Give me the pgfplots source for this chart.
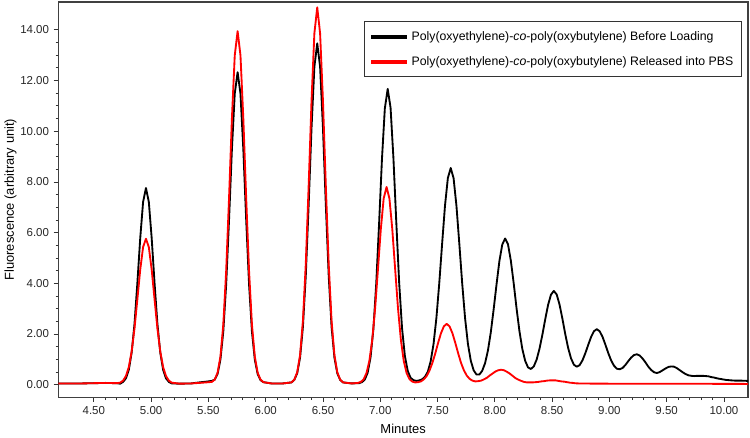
\documentclass[border=0pt]{standalone}
\usepackage{fontspec}
\setmainfont{Liberation Sans}
\usepackage{pgfplots}
\pgfplotsset{compat=1.18}

\pgfplotstableread{
x y
4.19 0.05
4.30 0.05
4.40 0.05
4.50 0.06
4.60 0.07
4.70 0.06
4.730 0.04
4.755 0.11
4.780 0.25
4.805 0.58
4.830 1.26
4.855 2.40
4.880 4.01
4.905 5.78
4.930 7.21
4.955 7.76
4.980 7.21
5.005 5.78
5.030 4.01
5.055 2.40
5.080 1.26
5.105 0.58
5.130 0.25
5.155 0.11
5.180 0.05
5.25 0.04
5.35 0.05
5.42 0.09
5.48 0.12
5.530 0.15
5.555 0.20
5.580 0.42
5.605 0.99
5.630 2.10
5.655 3.95
5.680 6.49
5.705 9.27
5.730 11.48
5.755 12.33
5.780 11.48
5.805 9.27
5.830 6.49
5.855 3.95
5.880 2.10
5.905 0.99
5.930 0.42
5.955 0.18
5.980 0.10
6.05 0.05
6.15 0.05
6.225 0.09
6.250 0.19
6.275 0.45
6.300 1.07
6.325 2.28
6.350 4.31
6.375 7.09
6.400 10.12
6.425 12.54
6.450 13.47
6.475 12.54
6.500 10.12
6.525 7.09
6.550 4.31
6.575 2.28
6.600 1.07
6.625 0.45
6.650 0.19
6.675 0.09
6.75 0.05
6.815 0.06
6.840 0.10
6.865 0.20
6.890 0.47
6.915 1.07
6.940 2.19
6.965 3.99
6.990 6.37
7.015 8.91
7.040 10.90
7.065 11.67
7.090 10.93
7.115 8.94
7.140 6.41
7.165 4.03
7.190 2.24
7.215 1.13
7.240 0.54
7.265 0.27
7.290 0.18
7.315 0.15
7.340 0.17
7.365 0.21
7.390 0.31
7.415 0.51
7.440 0.92
7.465 1.60
7.490 2.63
7.515 4.00
7.540 5.56
7.565 7.06
7.590 8.15
7.615 8.55
7.640 8.15
7.665 7.06
7.690 5.57
7.715 4.01
7.740 2.64
7.765 1.62
7.790 0.95
7.815 0.57
7.840 0.40
7.865 0.40
7.890 0.55
7.915 0.85
7.940 1.35
7.965 2.07
7.990 2.98
8.015 3.96
8.040 4.88
8.065 5.53
8.090 5.77
8.115 5.54
8.140 4.89
8.165 3.99
8.190 3.00
8.215 2.11
8.240 1.41
8.265 0.94
8.290 0.68
8.315 0.62
8.340 0.72
8.365 0.99
8.390 1.42
8.415 1.97
8.440 2.58
8.465 3.15
8.490 3.55
8.515 3.70
8.540 3.56
8.565 3.16
8.590 2.60
8.615 1.99
8.640 1.45
8.665 1.04
8.690 0.79
8.715 0.71
8.740 0.77
8.765 0.96
8.790 1.24
8.815 1.57
8.840 1.88
8.865 2.11
8.890 2.19
8.915 2.11
8.940 1.89
8.965 1.58
8.990 1.25
9.015 0.96
9.040 0.75
9.065 0.63
9.090 0.61
9.115 0.66
9.140 0.78
9.165 0.93
9.190 1.07
9.215 1.17
9.240 1.20
9.265 1.15
9.290 1.03
9.315 0.88
9.340 0.71
9.365 0.58
9.390 0.49
9.415 0.46
9.440 0.50
9.465 0.57
9.490 0.64
9.515 0.70
9.540 0.72
9.565 0.71
9.590 0.65
9.615 0.57
9.640 0.49
9.665 0.42
9.690 0.37
9.715 0.35
9.740 0.34
9.765 0.35
9.790 0.35
9.815 0.35
9.840 0.34
9.865 0.33
9.890 0.30
9.915 0.28
9.940 0.25
9.965 0.23
9.990 0.21
10.015 0.19
10.040 0.18
10.065 0.17
10.10 0.16
10.15 0.16
10.21 0.15
}\before

\pgfplotstableread{
x y
4.19 0.05
4.30 0.05
4.40 0.05
4.50 0.06
4.60 0.07
4.70 0.06
4.730 0.08
4.755 0.16
4.780 0.34
4.805 0.69
4.830 1.31
4.855 2.22
4.880 3.37
4.905 4.54
4.930 5.43
4.955 5.76
4.980 5.43
5.005 4.54
5.030 3.37
5.055 2.22
5.080 1.31
5.105 0.69
5.130 0.34
5.155 0.16
5.180 0.08
5.25 0.04
5.35 0.05
5.42 0.07
5.48 0.09
5.530 0.11
5.555 0.20
5.580 0.47
5.605 1.11
5.630 2.37
5.655 4.47
5.680 7.34
5.705 10.48
5.730 12.99
5.755 13.95
5.780 12.99
5.805 10.48
5.830 7.34
5.855 4.47
5.880 2.37
5.905 1.11
5.930 0.47
5.955 0.20
5.980 0.10
6.05 0.05
6.15 0.05
6.225 0.09
6.250 0.20
6.275 0.49
6.300 1.17
6.325 2.52
6.350 4.76
6.375 7.83
6.400 11.19
6.425 13.86
6.450 14.89
6.475 13.86
6.500 11.19
6.525 7.83
6.550 4.76
6.575 2.52
6.600 1.17
6.625 0.49
6.650 0.20
6.675 0.09
6.75 0.05
6.805 0.07
6.830 0.11
6.855 0.21
6.880 0.46
6.905 0.94
6.930 1.77
6.955 3.00
6.980 4.56
7.005 6.14
7.030 7.35
7.055 7.80
7.080 7.35
7.105 6.14
7.130 4.56
7.155 3.01
7.180 1.77
7.205 0.94
7.230 0.46
7.255 0.22
7.280 0.12
7.305 0.09
7.330 0.10
7.355 0.13
7.380 0.21
7.405 0.34
7.430 0.56
7.455 0.86
7.480 1.23
7.505 1.65
7.530 2.03
7.555 2.30
7.580 2.40
7.605 2.30
7.630 2.03
7.655 1.65
7.680 1.24
7.705 0.86
7.730 0.57
7.755 0.36
7.780 0.23
7.805 0.16
7.830 0.13
7.855 0.14
7.880 0.16
7.905 0.21
7.930 0.27
7.955 0.36
7.980 0.44
8.005 0.52
8.030 0.57
8.055 0.59
8.080 0.57
8.105 0.51
8.130 0.44
8.155 0.35
8.180 0.26
8.205 0.20
8.230 0.15
8.255 0.11
8.280 0.09
8.305 0.09
8.330 0.09
8.355 0.10
8.380 0.11
8.405 0.13
8.430 0.14
8.455 0.16
8.480 0.17
8.505 0.17
8.530 0.17
8.555 0.15
8.580 0.13
8.605 0.12
8.630 0.10
8.655 0.08
8.680 0.07
8.705 0.055
8.730 0.05
8.80 0.045
9.00 0.04
9.50 0.04
10.21 0.03
}\released

\begin{document}
\begin{tikzpicture}
\begin{axis}[
  width=522pt, height=299.25pt, scale only axis,
  xmin=4.19, xmax=10.21, ymin=-0.5, ymax=15.1,
  xtick={4.5,5,5.5,6,6.5,7,7.5,8,8.5,9,9.5,10},
  ytick={0,2,4,6,8,10,12,14},
  minor x tick num=4, minor y tick num=3,
  tick align=outside, tick pos=left,
  major tick length=3.5pt, minor tick length=2pt,
  tick style={black!80, line width=0.6pt},
  axis line style={black!75, line width=0.8pt},
  /pgf/number format/assume math mode=true,
  /pgf/number format/.cd, fixed, fixed zerofill, precision=2, /pgfplots/.cd,
  tick label style={font=\fontsize{8.7}{10}\selectfont, text=black!85},
  xlabel={Minutes}, ylabel={Fluorescence (arbitrary unit)},
  label style={font=\fontsize{9.8}{11}\selectfont},
  xlabel style={yshift=0pt},
  ylabel style={yshift=-4pt},
  legend style={at={(0.991,0.951)}, anchor=north east, draw=black!80,
    line width=0.8pt, font=\fontsize{9.3}{11}\selectfont,
    inner xsep=4pt, inner ysep=5pt, row sep=7pt, cells={anchor=west}},
  legend image code/.code={\draw[line width=3pt] (0pt,0pt) -- (27pt,0pt);},
]
\addplot[black, line width=1.4pt, line join=round] table[x=x,y=y] {\before};
\addplot[red, line width=1.4pt, line join=round] table[x=x,y=y] {\released};
\legend{Poly(oxyethylene)-\textit{co}-poly(oxybutylene) Before Loading,
  Poly(oxyethylene)-\textit{co}-poly(oxybutylene) Released into PBS}
\end{axis}
\path ([shift={(-39pt,-25.5pt)}]current axis.south west) rectangle ([shift={(1.5pt,1.5pt)}]current axis.north east);
\end{tikzpicture}
\end{document}
